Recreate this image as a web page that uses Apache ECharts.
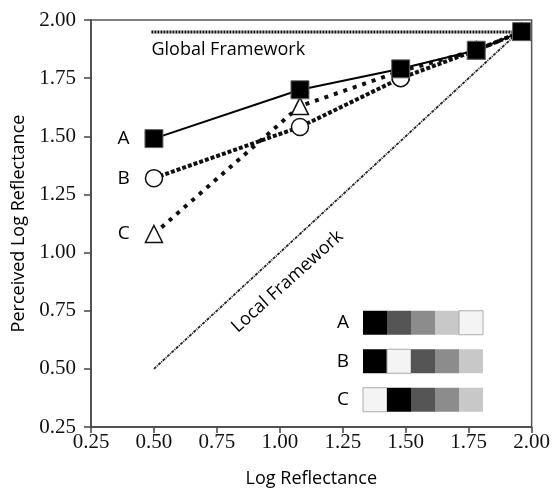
<!DOCTYPE html>
<html>
<head>
<meta charset="utf-8">
<script src="https://cdn.jsdelivr.net/npm/echarts@6/dist/echarts.min.js"></script>
<style>html,body{margin:0;padding:0;background:#fff}#c{width:553px;height:495px}</style>
</head>
<body>
<div id="c"></div>
<script>
// ---- data ----
var logReflectance = [0.50, 1.08, 1.48, 1.78, 1.96];
var seriesA = [1.49, 1.70, 1.79, 1.87, 1.95];
var seriesB = [1.32, 1.54, 1.75, 1.87, 1.95];
var seriesC = [1.08, 1.63, 1.78, 1.87, 1.95];
var globalFramework = [[0.49, 1.948], [1.96, 1.948]];
var localFramework = [[0.50, 0.50], [1.96, 1.96]];
var globalLabelAt = [0.49, 1.87];
var localLabelAt = [1.03, 0.875];
var insetRows = ['A', 'B', 'C'];
var insetCols = ['1', '2', '3', '4', '5'];
var insetA = ['#000000', '#555555', '#8c8c8c', '#c8c8c8', '#f4f4f4'];
var insetB = ['#000000', '#f4f4f4', '#555555', '#8c8c8c', '#c8c8c8'];
var insetC = ['#f4f4f4', '#000000', '#555555', '#8c8c8c', '#c8c8c8'];

var SANS = '"Open Sans", sans-serif';
var SERIF = '"Liberation Serif", serif';

function pairs(xs, ys) { return xs.map(function (x, i) { return [x, ys[i]]; }); }

function firstLabel(name) {
  return function (d) {
    return d.map(function (p, i) {
      if (i !== 0) return p;
      return { value: p, label: { show: true, position: 'left', distance: 15, formatter: name,
        fontFamily: SANS, fontSize: 19, color: '#000' } };
    });
  };
}

var insetData = [];
[insetA, insetB, insetC].forEach(function (row, r) {
  row.forEach(function (col, c) {
    var light = col === '#f4f4f4';
    insetData.push({ value: [c, r], itemStyle: { color: col, opacity: 1, borderColor: light ? '#aaaaaa' : col, borderWidth: light ? 1 : 0 } });
  });
});

var chart = echarts.init(document.getElementById('c'));
chart.setOption({
  animation: false,
  backgroundColor: '#fff',
  grid: [
    { left: 91, right: 19, top: 20, bottom: 68, show: true, borderColor: '#555', borderWidth: 1.5, backgroundColor: 'transparent' },
    { left: 363, width: 120, top: 303.5, height: 115.5 }
  ],
  xAxis: [
    { type: 'value', gridIndex: 0, min: 0.25, max: 2.0, interval: 0.25,
      name: 'Log Reflectance', nameLocation: 'middle', nameGap: 43,
      nameTextStyle: { fontFamily: SANS, fontSize: 18, color: '#000' },
      axisLine: { show: true, lineStyle: { color: '#444', width: 1.5 } },
      axisTick: { show: true, length: 6, lineStyle: { color: '#444', width: 1.5 } },
      axisLabel: { margin: 5, fontFamily: SERIF, fontSize: 21, color: '#111', formatter: function (v) { return v.toFixed(2); } },
      splitLine: { show: false } },
    { type: 'category', gridIndex: 1, data: insetCols, show: false }
  ],
  yAxis: [
    { type: 'value', gridIndex: 0, min: 0.25, max: 2.0, interval: 0.25,
      name: 'Perceived Log Reflectance', nameLocation: 'middle', nameGap: 61, nameRotate: 90,
      nameTextStyle: { fontFamily: SANS, fontSize: 18, color: '#000' },
      axisLine: { show: true, lineStyle: { color: '#444', width: 1.5 } },
      axisTick: { show: true, length: 7, lineStyle: { color: '#444', width: 1.5 } },
      axisLabel: { margin: 15, fontFamily: SERIF, fontSize: 21, color: '#111', formatter: function (v) { return v.toFixed(2); } },
      splitLine: { show: false } },
    { type: 'category', gridIndex: 1, data: insetRows, inverse: true,
      axisLine: { show: false }, axisTick: { show: false },
      axisLabel: { margin: 14, fontFamily: SANS, fontSize: 19, color: '#000' } }
  ],
  series: [
    { type: 'line', name: 'Global', data: globalFramework, symbol: 'none', silent: true,
      lineStyle: { color: '#111', width: 3, type: [2, 1] } },
    { type: 'line', name: 'Local', data: localFramework, symbol: 'none', silent: true,
      lineStyle: { color: '#222', width: 1.8, type: [3, 1, 1, 1] } },
    { type: 'scatter', data: [globalLabelAt], symbolSize: 0, silent: true, itemStyle: { opacity: 1 },
      label: { show: true, position: 'right', distance: 0, formatter: 'Global Framework', fontFamily: SANS, fontSize: 18, color: '#000' } },
    { type: 'scatter', data: [localLabelAt], symbolSize: 0, silent: true, itemStyle: { opacity: 1 },
      label: { show: true, position: 'inside', rotate: 42, formatter: 'Local Framework', fontFamily: SANS, fontSize: 18, color: '#000' } },
    { type: 'line', name: 'C', data: firstLabel('C')(pairs(logReflectance, seriesC)), symbol: 'triangle', symbolSize: 17,
      showAllSymbol: true,
      itemStyle: { color: '#fff', borderColor: '#111', borderWidth: 1.5 },
      lineStyle: { color: '#111', width: 4, type: [4, 6] }, z: 3 },
    { type: 'line', name: 'B', data: firstLabel('B')(pairs(logReflectance, seriesB)), symbol: 'circle', symbolSize: 17,
      showAllSymbol: true,
      itemStyle: { color: '#fff', borderColor: '#111', borderWidth: 1.5 },
      lineStyle: { color: '#111', width: 4, type: [4, 2] }, z: 4 },
    { type: 'line', name: 'A', data: firstLabel('A')(pairs(logReflectance, seriesA)), symbol: 'rect', symbolSize: 18,
      showAllSymbol: true,
      itemStyle: { color: '#000', borderColor: '#666', borderWidth: 1 },
      lineStyle: { color: '#000', width: 2, type: 'solid' }, z: 5 },
    { type: 'scatter', xAxisIndex: 1, yAxisIndex: 1, data: insetData, symbol: 'rect', symbolSize: [24, 24], silent: true,
      itemStyle: { opacity: 1 } }
  ]
});
</script>
</body>
</html>
